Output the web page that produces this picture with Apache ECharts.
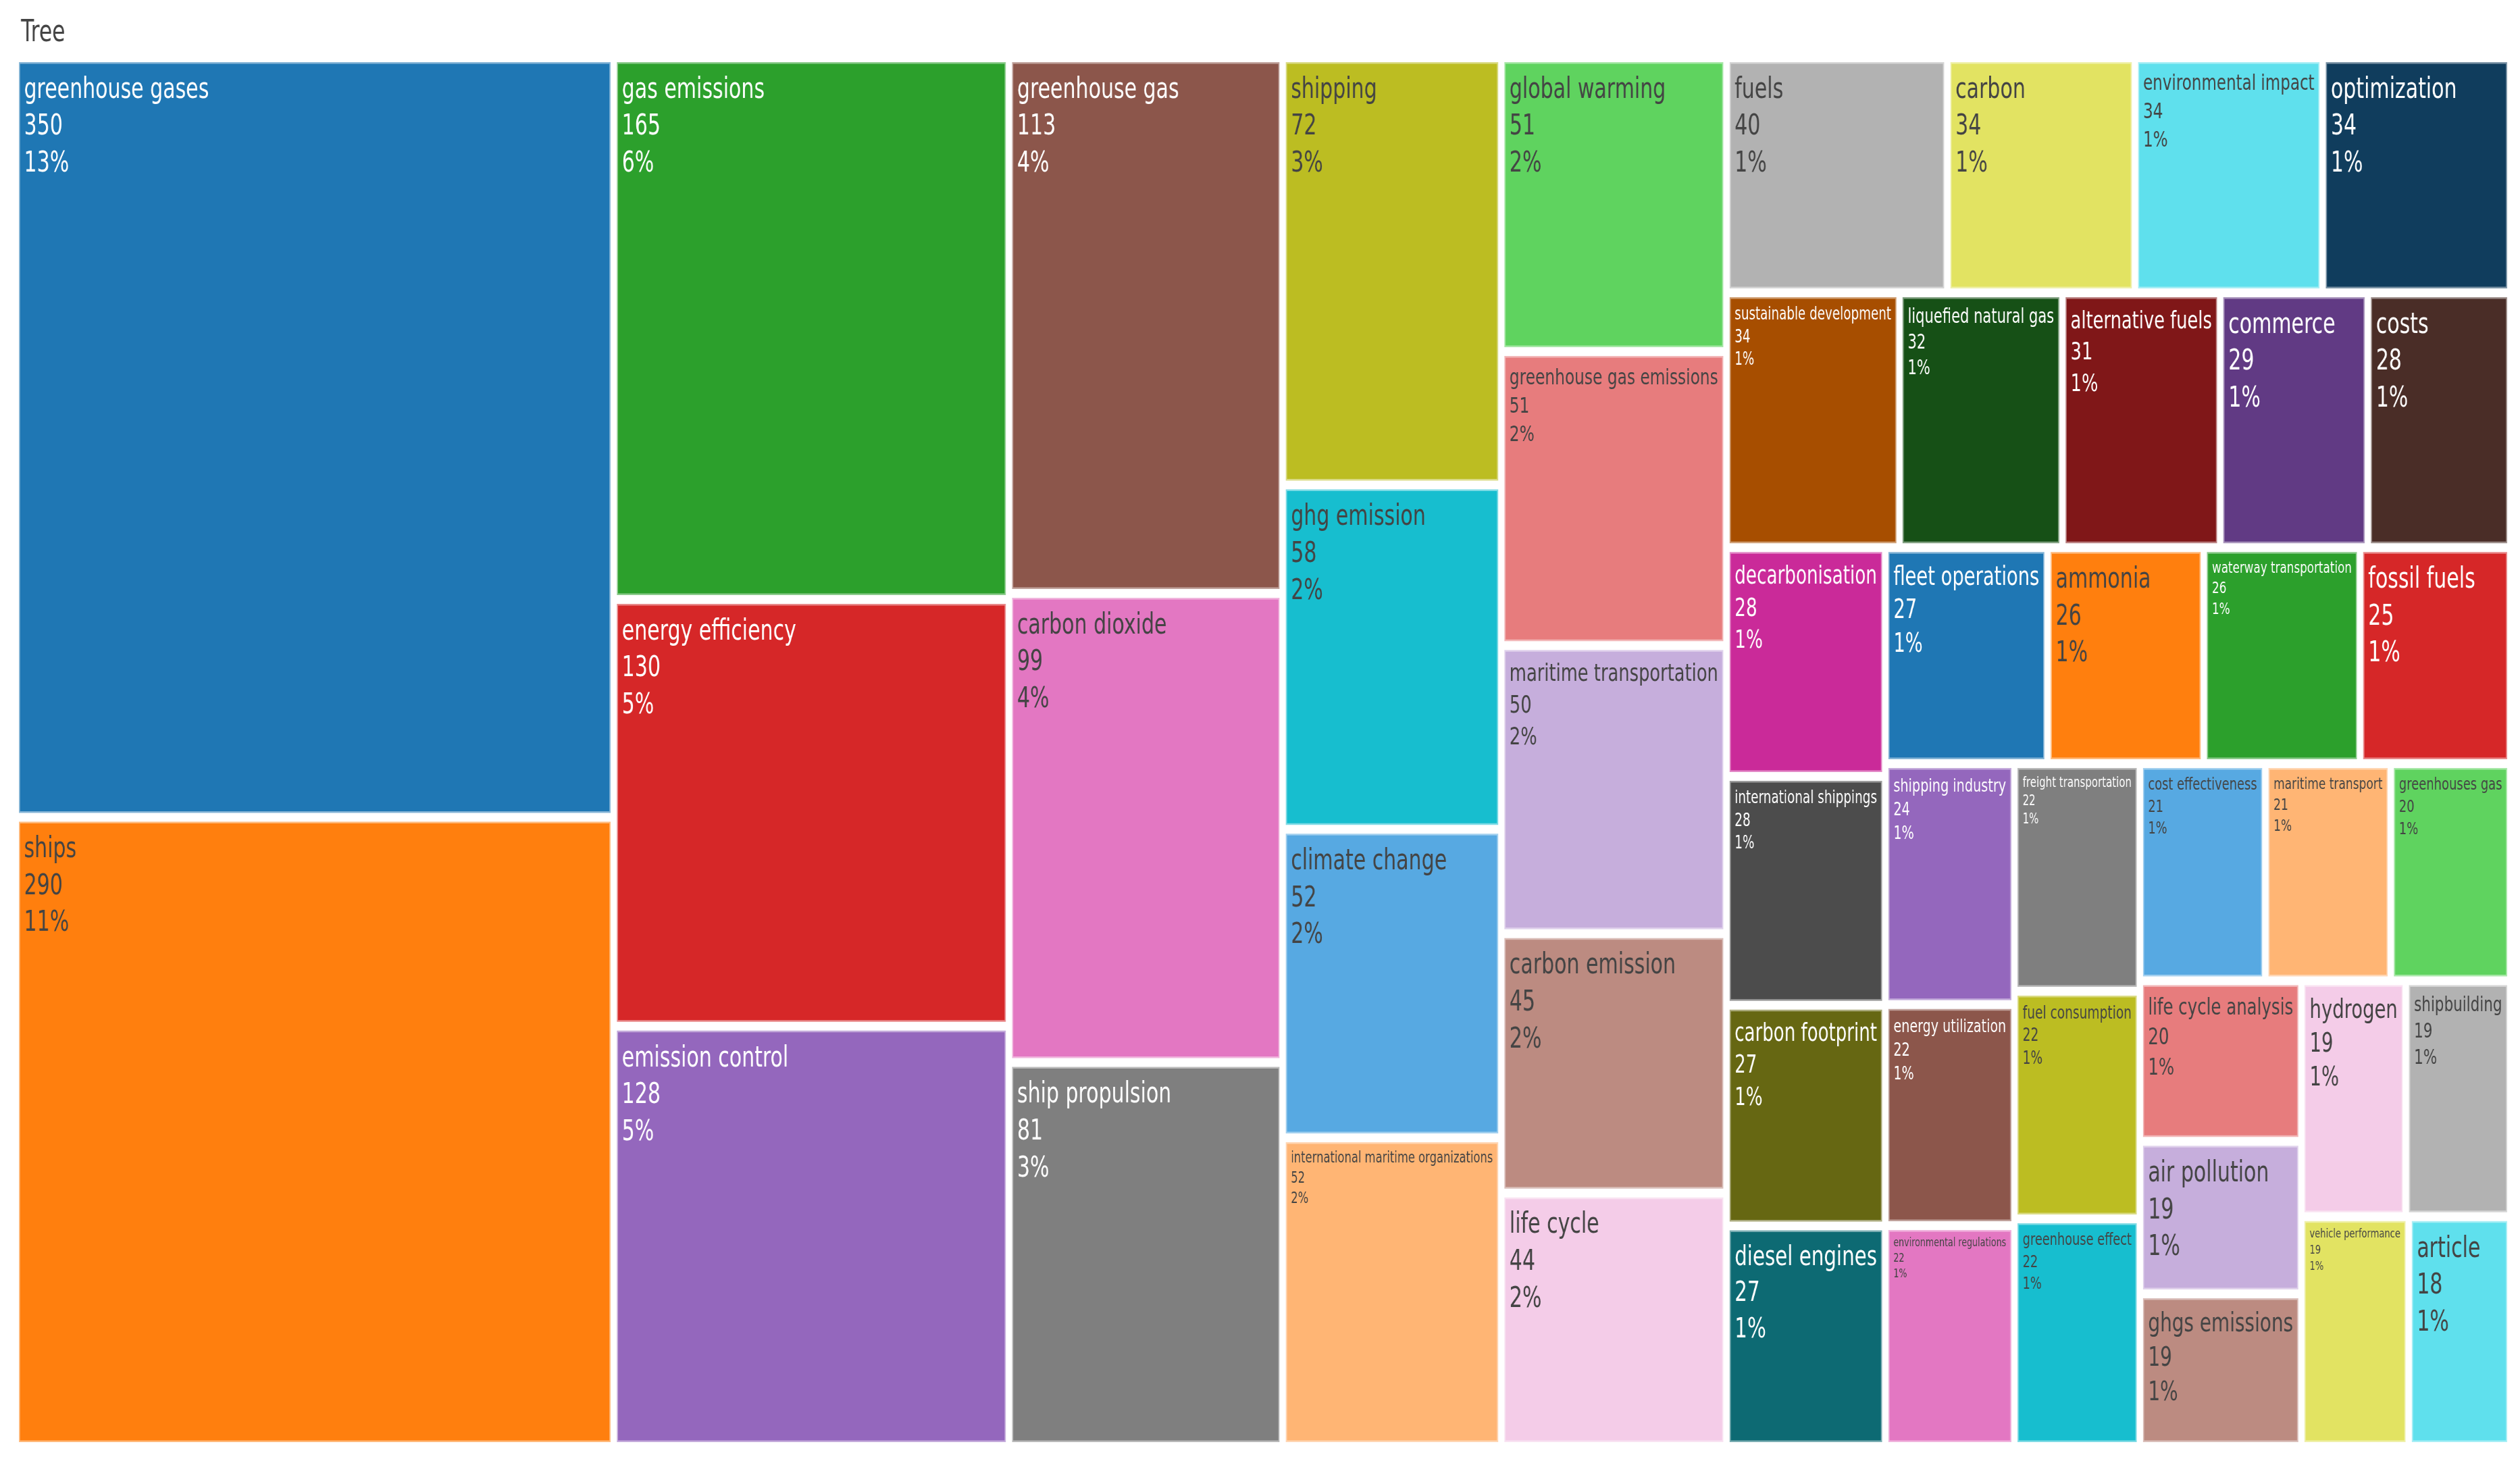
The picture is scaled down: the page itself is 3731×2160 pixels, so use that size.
<!DOCTYPE html>
<html>
<head>
<meta charset="utf-8">
<title>Tree</title>
<script src="https://cdn.jsdelivr.net/npm/echarts@6/dist/echarts.min.js"></script>
<style>
  html, body { margin: 0; padding: 0; background: #fff; overflow: hidden; }
  #main { height: 2160px; transform-origin: 0 0; }
</style>
</head>
<body>
<div id="main"></div>
<script>
// keyword counts, in table order (largest first, ties as in the source)
const keywords = [
  'greenhouse gases', 'ships', 'gas emissions', 'energy efficiency', 'emission control',
  'greenhouse gas', 'carbon dioxide', 'ship propulsion', 'shipping', 'ghg emission',
  'climate change', 'international maritime organizations', 'global warming', 'greenhouse gas emissions', 'maritime transportation',
  'carbon emission', 'life cycle', 'fuels', 'carbon', 'environmental impact',
  'optimization', 'sustainable development', 'liquefied natural gas', 'alternative fuels', 'commerce',
  'costs', 'decarbonisation', 'international shippings', 'carbon footprint', 'diesel engines',
  'fleet operations', 'ammonia', 'waterway transportation', 'fossil fuels', 'shipping industry',
  'energy utilization', 'environmental regulations', 'freight transportation', 'fuel consumption', 'greenhouse effect',
  'cost effectiveness', 'maritime transport', 'greenhouses gas', 'life cycle analysis', 'air pollution',
  'ghgs emissions', 'hydrogen', 'shipbuilding', 'vehicle performance', 'article'
];
const counts = [
  350, 290, 165, 130, 128,
  113, 99, 81, 72, 58,
  52, 52, 51, 51, 50,
  45, 44, 40, 34, 34,
  34, 34, 32, 31, 29,
  28, 28, 28, 27, 27,
  27, 26, 26, 25, 24,
  22, 22, 22, 22, 22,
  21, 21, 20, 20, 19,
  19, 19, 19, 19, 18
];

const baseColors = ['#1f77b4', '#ff7f0e', '#2ca02c', '#d62728', '#9467bd',
  '#8c564b', '#e377c2', '#7f7f7f', '#bcbd22', '#17becf'];

// the picture is squeezed sideways, so draw wide and squeeze it back
const STRETCH = 1.4;
const MAX_FONT = 42;
const LINE_RATIO = 1.3;
const BORDER = 2.5;
const PAD_X = 8;
const PAD_TOP = 12;
const FONT = '"DejaVu Sans", Verdana, sans-serif';

const total = counts.reduce((a, b) => a + b, 0);

function hexToRgb(h) {
  const n = parseInt(h.slice(1), 16);
  return [(n >> 16) & 255, (n >> 8) & 255, n & 255];
}
function rgbToHex(c) {
  return '#' + c.map(v => Math.round(Math.max(0, Math.min(255, v))).toString(16).padStart(2, '0')).join('');
}
//lighten / darken in hsl space, like tinycolor
function shiftLightness(hex, dl) {
  const [r, g, b] = hexToRgb(hex).map(v => v / 255);
  const max = Math.max(r, g, b), min = Math.min(r, g, b), d = max - min;
  let h = 0, s = 0, l = (max + min) / 2;
  if (d) {
    s = l > 0.5 ? d / (2 - max - min) : d / (max + min);
    if (max === r) h = (g - b) / d + (g < b ? 6 : 0);
    else if (max === g) h = (b - r) / d + 2;
    else h = (r - g) / d + 4;
    h /= 6;
  }
  l = Math.max(0, Math.min(1, l + dl));
  const q = l < 0.5 ? l * (1 + s) : l + s - l * s, p = 2 * l - q;
  const hue = t => {
    t = (t + 1) % 1;
    if (t < 1 / 6) return p + (q - p) * 6 * t;
    if (t < 1 / 2) return q;
    if (t < 2 / 3) return p + (q - p) * (2 / 3 - t) * 6;
    return p;
  };
  return rgbToHex([hue(h + 1 / 3), hue(h), hue(h - 1 / 3)].map(v => v * 255));
}
function mixWhite(hex, k) {
  return rgbToHex(hexToRgb(hex).map(v => v + (255 - v) * k));
}
function textColor(hex) {
  const [r, g, b] = hexToRgb(hex);
  return (r * 299 + g * 587 + b * 114) / 1000 < 128 ? '#ffffff' : '#444444';
}

const palette = baseColors
  .concat(baseColors.map(c => shiftLightness(c, 0.2)))
  .concat(baseColors.map(c => shiftLightness(c, -0.2)));

const items = keywords.map((name, i) => {
  const color = palette[i % palette.length];
  return {
    name: name,
    value: counts[i],
    itemStyle: { color: color, borderColor: mixWhite(color, 0.45) },
    label: { color: textColor(color) }
  };
});

const dom = document.getElementById('main');
dom.style.width = Math.round(3731 * STRETCH) + 'px';
dom.style.transform = 'scaleX(' + (1 / STRETCH) + ')';

const chart = echarts.init(dom, null, { renderer: 'canvas' });

const option = {
  animation: false,
  title: {
    text: 'Tree',
    left: 31 * STRETCH,
    top: 28,
    padding: 0,
    textStyle: { fontFamily: FONT, fontSize: 44, lineHeight: 44, fontWeight: 'normal', color: '#444444' }
  },
  series: [
    {
      type: 'treemap',
      left: 28 * STRETCH,
      top: 92,
      width: 3684 * STRETCH,
      height: 2043,
      sort: false,
      squareRatio: 1,
      roam: false,
      nodeClick: false,
      silent: true,
      breadcrumb: { show: false },
      levels: [
        { itemStyle: { gapWidth: 13, borderWidth: 0 } },
        { itemStyle: { borderWidth: BORDER, gapWidth: 0 } }
      ],
      label: {
        show: true,
        position: 'insideTopLeft',
        distance: 0,
        fontFamily: FONT,
        fontSize: MAX_FONT,
        lineHeight: MAX_FONT * LINE_RATIO,
        padding: [PAD_TOP, 0, 0, PAD_X],
        formatter: p => p.name + '\n' + p.value + '\n' + Math.round(p.value / total * 100) + '%'
      },
      data: items
    }
  ]
};
chart.setOption(option);

//shrink each label so its widest line fits the tile, as the source does
function fitLabels() {
  const ctx = document.createElement('canvas').getContext('2d');
  ctx.font = MAX_FONT + 'px ' + FONT;
  const root = chart.getModel().getSeriesByIndex(0).getData().tree.root;
  root.children.forEach(node => {
    const i = keywords.indexOf(node.name);
    const box = node.getLayout();
    if (i < 0 || !box) return;
    const lines = [keywords[i], String(counts[i]), Math.round(counts[i] / total * 100) + '%'];
    const widest = Math.max.apply(null, lines.map(s => ctx.measureText(s).width));
    const room = box.width - 2 * BORDER - 2 * PAD_X;
    const size = Math.min(MAX_FONT, MAX_FONT * room / widest);
    const k = size / MAX_FONT;
    items[i].label = {
      color: items[i].label.color,
      fontSize: size,
      lineHeight: size * LINE_RATIO,
      padding: [PAD_TOP * k, 0, 0, PAD_X]
    };
  });
  chart.setOption({ series: [{ data: items }] });
}
fitLabels();
</script>
</body>
</html>
